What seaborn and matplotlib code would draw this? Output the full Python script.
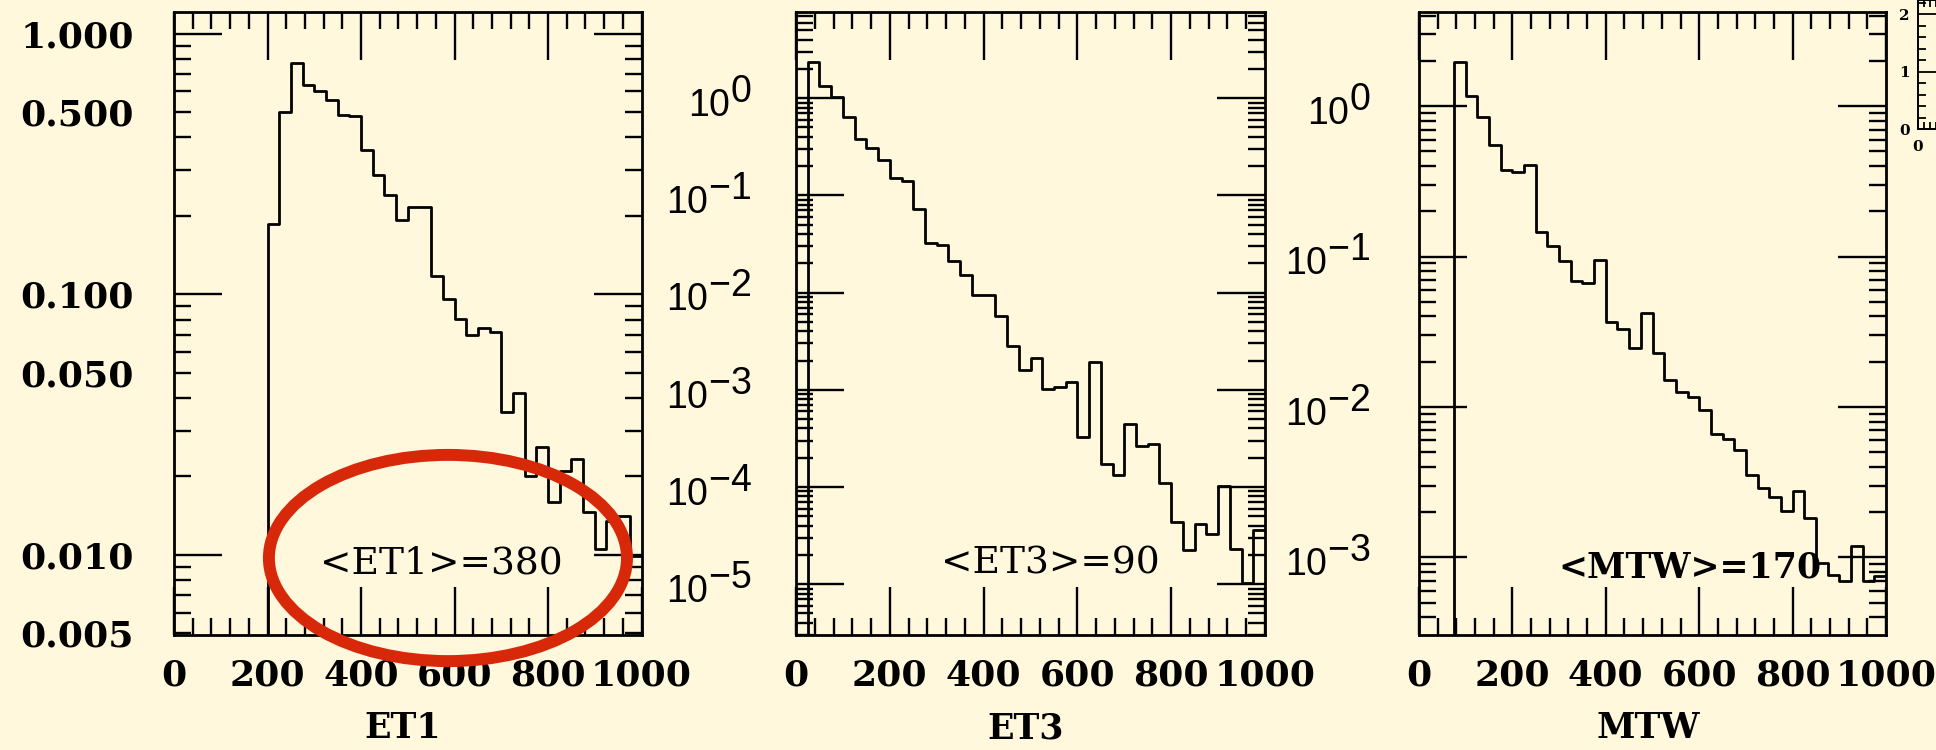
import numpy as np
import pandas as pd
import matplotlib
matplotlib.use("Agg")
import matplotlib.pyplot as plt
import matplotlib.ticker as mticker
from matplotlib.patches import Ellipse
import seaborn as sns

# ---------------- data ----------------
BIN_WIDTH = 25
X_MAX = 1000

et1_start = 200
et1_values = [0.186, 0.502, 0.773, 0.636, 0.602, 0.558, 0.488, 0.482, 0.358, 0.288,
              0.240, 0.192, 0.216, 0.217, 0.117, 0.0955, 0.0803, 0.0698, 0.0741, 0.0719,
              0.0354, 0.0417, 0.020, 0.0259, 0.0160, 0.021, 0.0234, 0.01465, 0.01052,
              0.01349, 0.0141, 0.0099]

et3_start = 25
et3_values = [2.34, 1.33, 1.02, 0.635, 0.381, 0.304, 0.229, 0.150, 0.1406, 0.0720,
              0.0321, 0.0307, 0.0211, 0.0150, 0.00955, 0.00955, 0.00574, 0.00284,
              0.00161, 0.00211, 0.00101, 0.00107, 0.00121, 0.000329, 0.00195,
              0.000173, 0.000132, 0.000448, 0.000263, 0.000279, 0.000110, 4.39e-5,
              2.23e-5, 4.19e-5, 3.30e-5, 1.02e-4, 2.32e-5, 1.04e-5, 3.58e-5]

mtw_start = 75
mtw_values = [1.96, 1.175, 0.845, 0.552, 0.377, 0.364, 0.406, 0.1456, 0.117, 0.0938,
              0.0690, 0.0665, 0.0953, 0.0367, 0.0329, 0.0245, 0.0419, 0.0230, 0.01502,
              0.01250, 0.01163, 0.00955, 0.00662, 0.00611, 0.00518, 0.00353, 0.00288,
              0.00251, 0.00204, 0.00278, 0.00182, 0.000914, 0.000763, 0.000697,
              0.00120, 0.000697, 0.000752]

x_tick_labels = ["0", "200", "400", "600", "800", "1000"]
et1_ytick_values = [1.0, 0.5, 0.1, 0.05, 0.01, 0.005]
et1_ytick_labels = ["1.000", "0.500", "0.100", "0.050", "0.010", "0.005"]
et3_decades = [0, -1, -2, -3, -4, -5]
mtw_decades = [0, -1, -2, -3]
x_labels = ["ET1", "ET3", "MTW"]
annotations = ["<ET1>=380", "<ET3>=90", "<MTW>=170"]
inset_ytick_labels = ["0", "1", "2"]

# ---------------- style ----------------
BG = "#FFF8DC"
RED = "#D8280A"
sns.set_theme(style="ticks")
plt.rcParams.update({
    "font.family": ["DejaVu Serif"],
    "mathtext.fontset": "custom",
    "mathtext.rm": "Liberation Sans",
    "mathtext.bf": "Liberation Sans:bold",
    "mathtext.it": "Liberation Sans:italic",
    "mathtext.default": "rm",
    "figure.facecolor": BG,
    "axes.facecolor": BG,
    "savefig.facecolor": BG,
    "axes.edgecolor": "black",
    "axes.linewidth": 2.0,
    "text.color": "black",
    "axes.labelcolor": "black",
    "xtick.color": "black",
    "ytick.color": "black",
    "xtick.labelcolor": "black",
    "ytick.labelcolor": "black",
    "axes.grid": False,
})

# exponents in the reference are drawn at the base size
try:
    import matplotlib._mathtext as _mt
    _mt.SHRINK_FACTOR = 1.0
except Exception:
    pass

W, H = 1936, 750
fig = plt.figure(figsize=(W / 100, H / 100), dpi=100)


def rect(l, r, t, b):
    return [l / W, 1 - b / H, (r - l) / W, (b - t) / H]


def hist_df(start, values):
    centers = np.arange(start, X_MAX, BIN_WIDTH) + BIN_WIDTH / 2
    return pd.DataFrame({"x": centers[:len(values)], "w": values})


edges = [float(e) for e in np.arange(0, X_MAX + BIN_WIDTH, BIN_WIDTH)]

panels = [
    dict(rect=rect(174, 641.5, 12, 635), start=et1_start, values=et1_values,
         ylim=(0.00493, 1.21), ypad=29, label=x_labels[0], note=annotations[0],
         note_xy=(0.571, 0.098), note_weight="normal", note_size=27),
    dict(rect=rect(796, 1265, 12, 635), start=et3_start, values=et3_values,
         ylim=(3.0e-6, 7.7), ypad=32, label=x_labels[1], note=annotations[1],
         note_xy=(0.542, 0.098), note_weight="normal", note_size=27),
    dict(rect=rect(1419, 1886, 12, 635), start=mtw_start, values=mtw_values,
         ylim=(3.05e-4, 4.23), ypad=35, label=x_labels[2], note=annotations[2],
         note_xy=(0.580, 0.093), note_weight="bold", note_size=25),
]

axes = []
for i, p in enumerate(panels):
    ax = fig.add_axes(p["rect"])
    axes.append(ax)
    df = hist_df(p["start"], p["values"])
    sns.histplot(data=df, x="x", weights="w", bins=edges, element="step",
                 fill=False, color="black", linewidth=2.0, ax=ax)
    ax.set_yscale("log")
    ax.set_xlim(0, X_MAX)
    ax.set_ylim(*p["ylim"])

    xt = [float(s) for s in x_tick_labels]
    ax.set_xticks(xt, x_tick_labels)
    ax.xaxis.set_minor_locator(mticker.MultipleLocator(40))

    ax.tick_params(axis="both", which="both", direction="in", top=True, right=True,
                   color="black")
    ax.tick_params(which="major", length=34.5, width=1.7)
    ax.tick_params(which="minor", length=12.5, width=1.7)
    ax.tick_params(axis="x", which="both", labelsize=26, pad=17)
    for t in ax.get_xticklabels():
        t.set_fontweight("bold")

    for s in ax.spines.values():
        s.set_linewidth(2.0)
        s.set_visible(True)

    if i == 0:
        lab = {round(v, 6): t for v, t in zip(et1_ytick_values, et1_ytick_labels)}
        fmt = mticker.FuncFormatter(lambda v, pos: lab.get(round(v, 6), ""))
        ax.yaxis.set_major_locator(mticker.FixedLocator([1.0, 0.1, 0.01]))
        ax.yaxis.set_minor_locator(mticker.LogLocator(base=10, subs=np.arange(2, 10)))
        ax.yaxis.set_major_formatter(fmt)
        ax.yaxis.set_minor_formatter(fmt)
        ax.tick_params(axis="y", which="both", labelsize=26, pad=p["ypad"])
        for t in ax.get_yticklabels(which="both"):
            t.set_fontweight("bold")
    else:
        decs = et3_decades if i == 1 else mtw_decades
        ax.yaxis.set_major_locator(mticker.FixedLocator([10.0 ** d for d in decs]))
        ax.yaxis.set_minor_locator(mticker.LogLocator(base=10, subs=np.arange(2, 10),
                                                      numticks=30))
        ax.yaxis.set_major_formatter(mticker.FuncFormatter(
            lambda v, pos: r"$10^{%d}$" % int(round(np.log10(v)))))
        ax.yaxis.set_minor_formatter(mticker.NullFormatter())
        ax.tick_params(axis="y", which="both", labelsize=27, pad=p["ypad"])

    ax.set_ylabel("")
    ax.set_xlabel(p["label"], fontsize=25, fontweight="bold")
    ax.xaxis.set_label_coords(0.49, -0.122)
    ax.xaxis.label.set_va("top")

    ax.text(*p["note_xy"], p["note"], transform=ax.transAxes, ha="center",
            va="baseline", fontsize=p["note_size"], fontweight=p["note_weight"],
            zorder=6)

# red ellipse annotation on the first panel
ell = Ellipse((0.586, 0.1236), 0.766, 0.331, transform=axes[0].transAxes,
              fill=False, edgecolor=RED, linewidth=8.6, clip_on=False, zorder=20)
axes[0].add_patch(ell)

# cropped small panel at the top-right corner
ins = fig.add_axes(rect(1918, 2118, 0, 129.3))
ins.set_xlim(0, 100)
ins.set_ylim(0, 2.25)
ins.set_yticks([float(s) for s in inset_ytick_labels], inset_ytick_labels)
ins.yaxis.set_minor_locator(mticker.MultipleLocator(0.2))
ins.set_xticks([0.0], ["0"])
ins.xaxis.set_minor_locator(mticker.MultipleLocator(3))
ins.tick_params(axis="both", which="both", direction="in", top=True, right=True,
                labelsize=11, width=1.3, color="black")
ins.tick_params(axis="y", which="major", length=20, pad=6)
ins.tick_params(axis="y", which="minor", length=6)
ins.tick_params(axis="x", which="major", length=6, pad=8)
ins.tick_params(axis="x", which="minor", length=5)
for s in ins.spines.values():
    s.set_linewidth(1.4)
    s.set_visible(True)
for t in ins.get_xticklabels() + ins.get_yticklabels():
    t.set_fontweight("bold")

fig.savefig("out.png", dpi=100)
